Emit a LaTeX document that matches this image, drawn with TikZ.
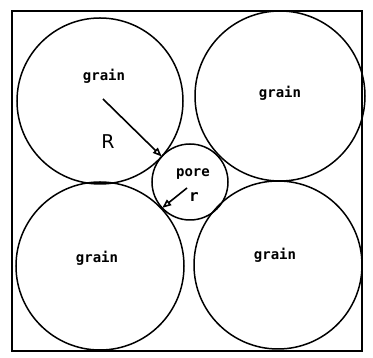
\documentclass[tikz,border=0pt]{standalone}
\usepackage{fontspec}
\setmainfont{DejaVu Sans}
\newfontfamily\labelfont{DejaVu Sans Mono}
\usetikzlibrary{arrows.meta,calc}
\begin{document}
\begin{tikzpicture}[x=1pt,y=1pt,
  grainc/.style={circle,draw,line width=1.5pt,inner sep=0pt},
  lbl/.style={font=\labelfont\bfseries\fontsize{14}{14}\selectfont,inner sep=0pt},
  rarrow/.style={line width=1.6pt,-{Triangle[open,length=9pt,width=7pt]}}]
\useasboundingbox (0,0) rectangle (373,358);
\draw[line width=1.8pt] (12,7) rectangle (362,347);
\node[grainc,minimum size=166pt] (tl) at (100,257) {};
\node[grainc,minimum size=170pt] (tr) at (280,262) {};
\node[grainc,minimum size=168pt] (bl) at (100,92) {};
\node[grainc,minimum size=168pt] (br) at (278,93) {};
\node[grainc,minimum size=76pt] (pore) at (190,176) {};
\node[lbl] (g1) at (104,282) {grain};
\node[lbl] (g2) at (280,265) {grain};
\node[lbl] (g3) at (97,100) {grain};
\node[lbl] (g4) at (275,103) {grain};
\node[lbl] (pl) at (193,184) {pore};
\node[inner sep=0pt,font=\fontsize{19}{19}\selectfont] (Rl) at (108,216) {R};
\node[lbl,font=\labelfont\bfseries\fontsize{16}{16}\selectfont] (rl) at (194,161) {r};
\coordinate (tlc) at ($(tl.center)!83pt!(pore.center)$);
\coordinate (blc) at ($(pore.center)!38pt!(bl.center)$);
\coordinate (rs) at (187,170);
\draw[rarrow] ($(tl.center)+(3,2)$) -- (tlc);
\draw[rarrow] (rs) -- (blc);
\end{tikzpicture}
\end{document}
